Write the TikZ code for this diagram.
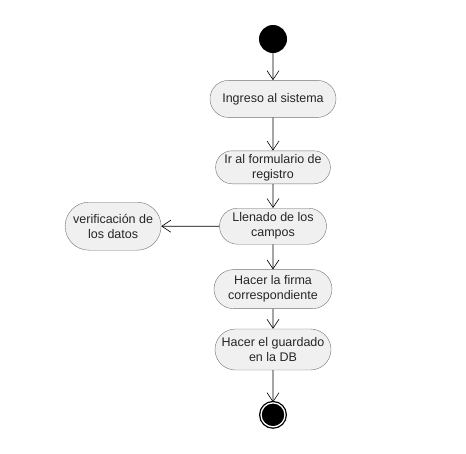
\documentclass[tikz,border=0pt]{standalone}
\usepackage{fontspec}
\setmainfont{Liberation Sans}
\usetikzlibrary{shapes.misc,arrows.meta,positioning}

\begin{document}
\begin{tikzpicture}[
    x=1pt, y=1pt,
    activity/.style={rounded rectangle, draw=black!55, fill=black!6, align=center, inner sep=2pt,
        text=black!85, font=\fontsize{12.5}{15}\selectfont},
    arrow/.style={-{Straight Barb[length=9pt,width=12pt]}, black, line width=0.6pt}
]
    \useasboundingbox (0,0) rectangle (466,-453);

    % Nodes
    \node[circle, fill=black, minimum size=28pt, inner sep=0pt] (start) at (273,-39) {};
    \node[activity, minimum width=130pt, minimum height=37pt, below=27pt of start] (ingreso) {Ingreso al sistema};
    \node[activity, minimum width=108pt, minimum height=33pt, below=33pt of ingreso] (formulario) {Ir al formulario de\\registro};
    \node[activity, minimum width=111pt, minimum height=36pt, below=24pt of formulario] (llenado) {Llenado de los\\campos};
    \node[activity, minimum width=100pt, minimum height=48pt, left=58pt of llenado] (verificacion) {verificaci\'on de\\los datos};
    \node[activity, minimum width=122pt, minimum height=39pt, below=25pt of llenado] (firma) {Hacer la firma\\correspondiente};
    \node[activity, minimum width=120pt, minimum height=41pt, below=20pt of firma] (guardado) {Hacer el guardado\\en la DB};
    \node[circle, draw=black, fill=black, line width=1.3pt, double=white, double distance=1.3pt,
        minimum size=24pt, inner sep=0pt, below=32pt of guardado] (fin) {};

    % Arrows
    \draw[arrow] (start) -- (ingreso);
    \draw[arrow] (ingreso) -- (formulario);
    \draw[arrow] (formulario) -- (llenado);
    \draw[arrow] (llenado) -- (verificacion);
    \draw[arrow] (llenado) -- (firma);
    \draw[arrow] (firma) -- (guardado);
    \draw[arrow] (guardado) -- (fin);
\end{tikzpicture}
\end{document}
